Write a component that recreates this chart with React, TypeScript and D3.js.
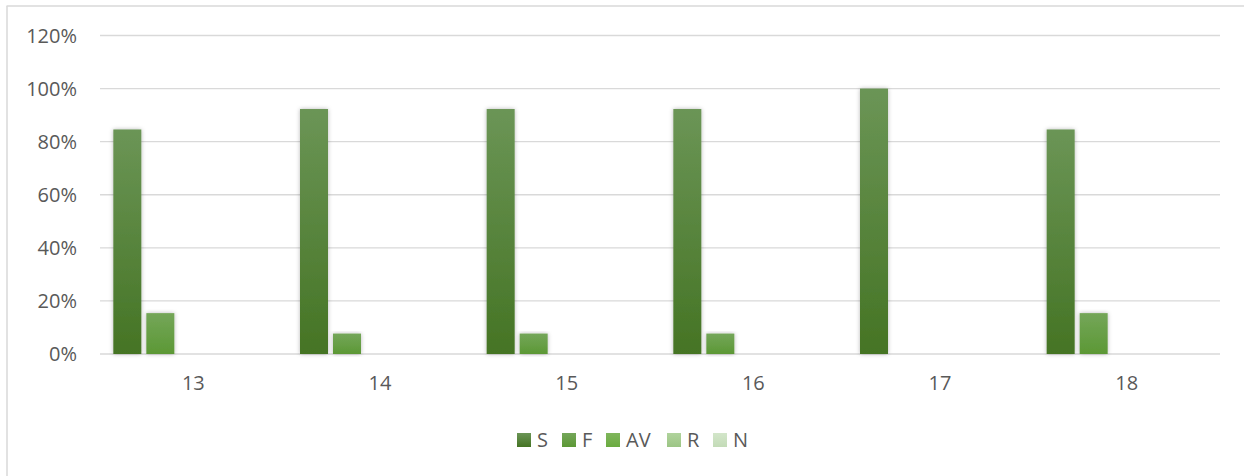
import React from "react";
import * as d3 from "d3";

const categories = ["13", "14", "15", "16", "17", "18"];
const seriesNames = ["S", "F", "AV", "R", "N"];
const valuesS = [0.846, 0.923, 0.923, 0.923, 1.0, 0.846];
const valuesF = [0.154, 0.077, 0.077, 0.077, 0, 0.154];
const valuesAV = [0, 0, 0, 0, 0, 0];
const valuesR = [0, 0, 0, 0, 0, 0];
const valuesN = [0, 0, 0, 0, 0, 0];
const yTicks = [0, 0.2, 0.4, 0.6, 0.8, 1.0, 1.2];

const seriesValues = [valuesS, valuesF, valuesAV, valuesR, valuesN];
const gradTop = ["#6b9556", "#74a659", "#80b65c", "#b0d39c", "#d3e6ca"];
const gradBottom = ["#457424", "#5c9835", "#6aab40", "#9cc585", "#c3dbb7"];

const W = 1244;
const H = 476;
const FONT = "'Open Sans', sans-serif";
const TEXT = "#595959";

export default function App() {
  const x = d3.scaleBand<string>().domain(categories).range([100, 1220]).paddingInner(0).paddingOuter(0);
  const y = d3.scaleLinear().domain([0, 1.2]).range([354, 35.5]);
  const sub = d3.scaleBand<string>().domain(seriesNames).range([-80, 80]).paddingInner(5 / 33).paddingOuter(0);

  const legendX = [517, 562, 606, 667, 713];

  return (
    <svg width={W} height={H} style={{ position: "absolute", left: 0, top: 0, background: "#fff" }}>
      <defs>
        {seriesNames.map((s, i) => (
          <linearGradient key={s} id={`g${i}`} x1="0" y1="0" x2="0" y2="1">
            <stop offset="0%" stopColor={gradTop[i]} />
            <stop offset="100%" stopColor={gradBottom[i]} />
          </linearGradient>
        ))}
        <filter id="sh" x="-50%" y="-10%" width="200%" height="120%">
          <feDropShadow dx="0" dy="0" stdDeviation="2" floodColor="#000" floodOpacity="0.28" />
        </filter>
      </defs>
      <rect x={0} y={0} width={W} height={H} fill="#fff" />
      <line x1={6.5} y1={6} x2={W} y2={6} stroke="#d9d9d9" strokeWidth={1.5} />
      <line x1={7} y1={6} x2={7} y2={H} stroke="#d9d9d9" strokeWidth={1.5} />
      {yTicks.map((t) => (
        <g key={t}>
          <line x1={100} x2={1220} y1={y(t)} y2={y(t)} stroke="#d9d9d9" strokeWidth={1.4} />
          <text x={77} y={y(t)} dy="0.35em" textAnchor="end" fontFamily={FONT} fontSize={20} fill={TEXT}>
            {Math.round(t * 100) + "%"}
          </text>
        </g>
      ))}
      {categories.map((c, ci) => {
        const cx = (x(c) as number) + x.bandwidth() / 2;
        return (
          <g key={c}>
            {seriesNames.map((s, si) => {
              const v = seriesValues[si][ci];
              if (v <= 0) return null;
              const bx = cx + (sub(s) as number);
              return (
                <rect
                  key={s}
                  x={bx}
                  y={y(v)}
                  width={sub.bandwidth()}
                  height={y(0) - y(v)}
                  fill={`url(#g${si})`}
                  filter="url(#sh)"
                />
              );
            })}
            <text x={cx} y={390} textAnchor="middle" fontFamily={FONT} fontSize={20} fill={TEXT}>
              {c}
            </text>
          </g>
        );
      })}
      {seriesNames.map((s, i) => (
        <g key={s}>
          <rect x={legendX[i]} y={433} width={14} height={14} fill={`url(#g${i})`} />
          <text x={legendX[i] + 20} y={447} fontFamily={FONT} fontSize={20} fill={TEXT}>
            {s}
          </text>
        </g>
      ))}
    </svg>
  );
}
